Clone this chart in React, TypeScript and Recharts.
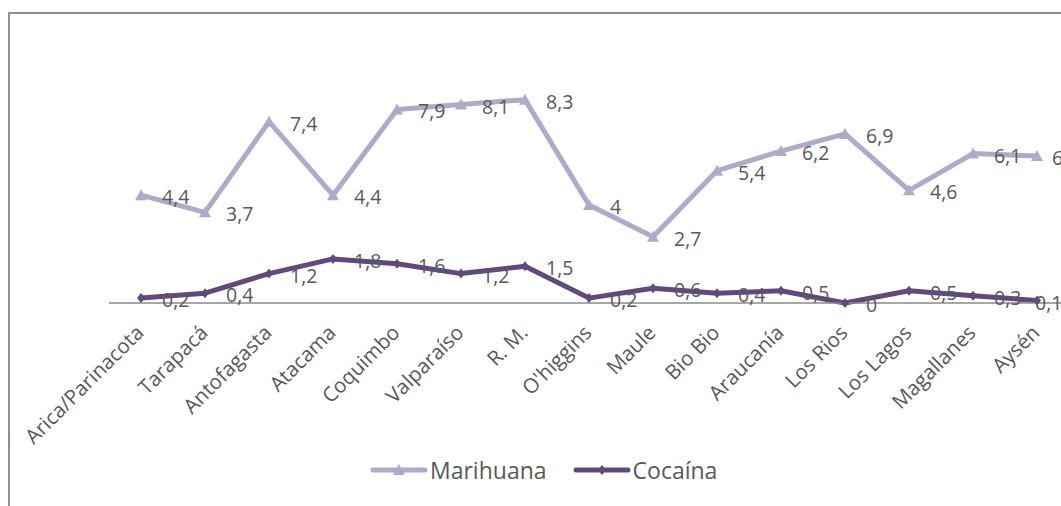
import React from "react";
import { LineChart, Line, XAxis, YAxis, LabelList } from "recharts";

const categories = [
  "Arica/Parinacota", "Tarapacá", "Antofagasta", "Atacama", "Coquimbo",
  "Valparaíso", "R. M.", "O'higgins", "Maule", "Bio Bio",
  "Araucanía", "Los Rios", "Los Lagos", "Magallanes", "Aysén",
];
const marihuana = [4.4, 3.7, 7.4, 4.4, 7.9, 8.1, 8.3, 4, 2.7, 5.4, 6.2, 6.9, 4.6, 6.1, 6];
const cocaina = [0.2, 0.4, 1.2, 1.8, 1.6, 1.2, 1.5, 0.2, 0.6, 0.4, 0.5, 0, 0.5, 0.3, 0.1];

const data = categories.map((c, i) => ({ region: c, Marihuana: marihuana[i], Cocaina: cocaina[i] }));

const LIGHT = "#B3A8C8";
const DARK = "#604A7B";
const TEXT = "#595959";
const FONT = "'Open Sans', sans-serif";

const fmt = (v: number) => String(v).replace(".", ",");

const Triangle = (props: any) => {
  const { cx, cy } = props;
  if (cx == null || cy == null) return null;
  return <path d={`M${cx},${cy - 6} L${cx + 6},${cy + 5} L${cx - 6},${cy + 5} Z`} fill={LIGHT} />;
};
const Diamond = (props: any) => {
  const { cx, cy } = props;
  if (cx == null || cy == null) return null;
  return <path d={`M${cx},${cy - 5} L${cx + 4},${cy} L${cx},${cy + 5} L${cx - 4},${cy} Z`} fill={DARK} />;
};

const makeLabel = (lastOffset: number) => (props: any) => {
  const { x, y, value, index } = props;
  const off = index === categories.length - 1 ? lastOffset : 21;
  return (
    <text x={x + off} y={y + 9} fill={TEXT} fontSize={19.5} fontFamily={FONT} textAnchor="start">
      {fmt(value)}
    </text>
  );
};
const labelMarihuana = makeLabel(15);
const labelCocaina = makeLabel(-2);

const Tick = (props: any) => {
  const { x, payload } = props;
  return (
    <g transform={`translate(${x + 4},${334})`}>
      <text x={0} y={0} textAnchor="end" transform="rotate(-45)" fill={TEXT} fontSize={20.5} fontFamily={FONT}>
        {payload.value}
      </text>
    </g>
  );
};

export default function App() {
  return (
    <div style={{ position: "absolute", left: 0, top: 0, width: 1061, height: 506, overflow: "hidden", background: "#fff" }}>
      <div style={{ position: "absolute", left: 8, top: 12, width: 1100, height: 560, border: "2px solid #8f8f8f", boxSizing: "border-box" }} />
      <div style={{ position: "absolute", left: 0, top: 0 }}>
        <LineChart width={1100} height={506} data={data} margin={{ top: 58, left: 109, right: 31, bottom: 0 }}>
          <YAxis hide domain={[0, 10]} />
          <XAxis
            dataKey="region"
            interval={0}
            padding={{ left: 32, right: 32 }}
            tickLine={false}
            axisLine={{ stroke: "#8a8a8a", strokeWidth: 1.5 }}
            tick={<Tick />}
            height={203}
          />
          <Line
            dataKey="Marihuana"
            stroke={LIGHT}
            strokeWidth={5}
            strokeLinejoin="round"
            dot={<Triangle />}
            activeDot={false}
            isAnimationActive={false}
          >
            <LabelList dataKey="Marihuana" content={labelMarihuana} />
          </Line>
          <Line
            dataKey="Cocaina"
            name="Cocaína"
            stroke={DARK}
            strokeWidth={5}
            strokeLinejoin="round"
            dot={<Diamond />}
            activeDot={false}
            isAnimationActive={false}
          >
            <LabelList dataKey="Cocaina" content={labelCocaina} />
          </Line>
        </LineChart>
      </div>
      <div style={{ position: "absolute", left: 370, top: 454, display: "flex", alignItems: "center", fontFamily: FONT, fontSize: 23, color: TEXT }}>
        <svg width={58} height={14}>
          <line x1={3} y1={7} x2={55} y2={7} stroke={LIGHT} strokeWidth={5} strokeLinecap="round" />
          <path d="M29,1 L35,12 L23,12 Z" fill={LIGHT} />
        </svg>
        <span style={{ marginLeft: 2 }}>Marihuana</span>
        <svg width={58} height={14} style={{ marginLeft: 26 }}>
          <line x1={3} y1={7} x2={55} y2={7} stroke={DARK} strokeWidth={5} strokeLinecap="round" />
          <path d="M29,2 L33,7 L29,12 L25,7 Z" fill={DARK} />
        </svg>
        <span style={{ marginLeft: 2 }}>Cocaína</span>
      </div>
    </div>
  );
}
